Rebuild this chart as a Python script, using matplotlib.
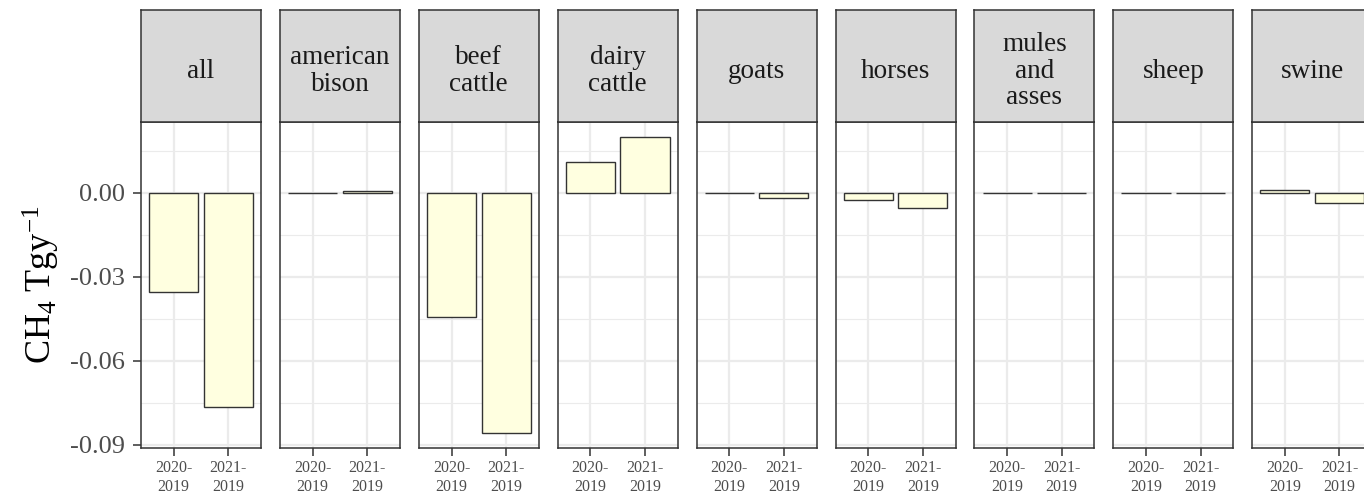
import matplotlib
matplotlib.use("Agg")
import matplotlib.pyplot as plt
from matplotlib.ticker import MultipleLocator

plt.rcParams['font.family'] = ['Liberation Serif', 'DejaVu Serif']
plt.rcParams['mathtext.fontset'] = 'custom'
plt.rcParams['mathtext.rm'] = 'Liberation Serif'
plt.rcParams['mathtext.it'] = 'Liberation Serif:italic'

# data
animals = ['all', 'american\nbison', 'beef\ncattle', 'dairy\ncattle', 'goats',
           'horses', 'mules\nand\nasses', 'sheep', 'swine']
periods = ['2020-\n2019', '2021-\n2019']
diff_2020 = [-0.0355, 0.0, -0.0444, 0.0109, 0.0, -0.0027, 0.0, 0.0, 0.0011]
diff_2021 = [-0.0764, 0.0008, -0.0859, 0.0199, -0.0020, -0.0056, 0.0, 0.0, -0.0037]
yticks = [0.0, -0.03, -0.06, -0.09]
ytick_labels = ['0.00', '-0.03', '-0.06', '-0.09']

W, H = 1364, 497
fig = plt.figure(figsize=(W / 100, H / 100), dpi=100)

left0, pw, step = 141, 120, 138.9
strip_top, strip_bot, panel_bot = 10, 122, 448
ymin, ymax = -0.0912, 0.0253

for i, name in enumerate(animals):
    x0 = left0 + i * step
    ax = fig.add_axes([x0 / W, 1 - panel_bot / H, pw / W, (panel_bot - strip_bot) / H])
    vals = [diff_2020[i], diff_2021[i]]
    ax.bar([1, 2], vals, width=0.9, color='#FFFFE0', edgecolor='#333333',
           linewidth=1.0, zorder=3)
    ax.set_xlim(0.4, 2.6)
    ax.set_ylim(ymin, ymax)
    ax.set_xticks([1, 2])
    ax.set_xticklabels(periods, linespacing=1.3)
    ax.set_yticks(yticks)
    ax.yaxis.set_minor_locator(MultipleLocator(0.015))
    ax.tick_params(axis='both', which='major', length=6, width=1.1, color='#333333')
    ax.tick_params(axis='x', labelsize=11.5, labelcolor='#4D4D4D', pad=2.5)
    if i == 0:
        ax.set_yticklabels(ytick_labels)
        ax.tick_params(axis='y', labelsize=19, labelcolor='#4D4D4D', pad=5.5)
        ax.set_ylabel(r'$\mathrm{CH_4\ Tgy^{-1}}$', fontsize=26, labelpad=6)
    else:
        ax.tick_params(axis='y', which='both', left=False, labelleft=False)
    ax.tick_params(axis='y', which='minor', left=False)
    ax.grid(which='major', color='#EBEBEB', linewidth=1.6, zorder=0)
    ax.grid(which='minor', axis='y', color='#EBEBEB', linewidth=0.8, zorder=0)
    ax.set_axisbelow(True)
    for s in ax.spines.values():
        s.set_color('#333333')
        s.set_linewidth(1.1)
        s.set_zorder(5)

    sx = fig.add_axes([x0 / W, 1 - strip_bot / H, pw / W, (strip_bot - strip_top) / H])
    sx.set_facecolor('#D9D9D9')
    sx.set_xticks([])
    sx.set_yticks([])
    for s in sx.spines.values():
        s.set_color('#333333')
        s.set_linewidth(1.1)
    sx.text(0.5, 0.455, name, ha='center', va='center', fontsize=19.5,
            color='#1A1A1A', linespacing=1.1, transform=sx.transAxes)

fig.savefig('out.png', dpi=100)
